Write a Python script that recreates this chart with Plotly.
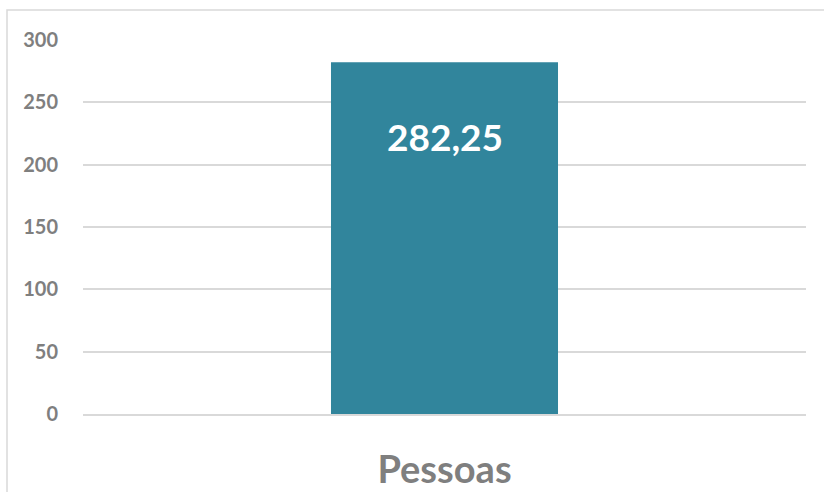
import plotly.graph_objects as go

categories = ["Pessoas"]
values = [282.25]
y_ticks = [0, 50, 100, 150, 200, 250, 300]

W, H = 824, 492
L, R, T, B = 83, 18, 40, 78
pw, ph = W - L - R, H - T - B

fig = go.Figure()
fig.add_trace(go.Bar(x=categories, y=values, marker_color="#31859C",
                     marker_line_width=0, hoverinfo="skip"))

for c, v in zip(categories, values):
    fig.add_annotation(x=c, y=v, yanchor="top", yshift=-50,
                       text=f"{v:.2f}".replace(".", ","), showarrow=False,
                       font=dict(family="Lato", size=37, color="white", weight="bold"))

# chart frame
fig.add_shape(type="rect", xref="paper", yref="paper",
              x0=(7 - L) / pw, x1=(840 - L) / pw,
              y0=(H - B - 510) / ph, y1=(H - B - 10) / ph,
              line=dict(color="#d9d9d9", width=1.5), fillcolor="rgba(0,0,0,0)", layer="below")

fig.update_layout(
    width=W, height=H, margin=dict(l=L, r=R, t=T, b=B),
    paper_bgcolor="white", plot_bgcolor="white",
    bargap=0.686, showlegend=False,
    font=dict(family="Lato", color="#7f7f7f"),
)
fig.update_yaxes(range=[0, 300], tickvals=y_ticks, showgrid=True, gridcolor="#d9d9d9",
                 gridwidth=1.5, zeroline=False, showline=False, ticks="", automargin=False,
                 tickfont=dict(family="Lato", size=20, color="#7f7f7f", weight="bold"),
                 ticklabelstandoff=24)
fig.update_xaxes(showline=True, linecolor="#d9d9d9", linewidth=1.5, ticks="", automargin=False,
                 tickfont=dict(family="Lato", size=38, color="#7f7f7f", weight="bold"),
                 ticklabelstandoff=22)

fig.write_html("out.html", config={"displayModeBar": False},
               post_script="document.body.style.margin='0';document.body.style.overflow='hidden';")
